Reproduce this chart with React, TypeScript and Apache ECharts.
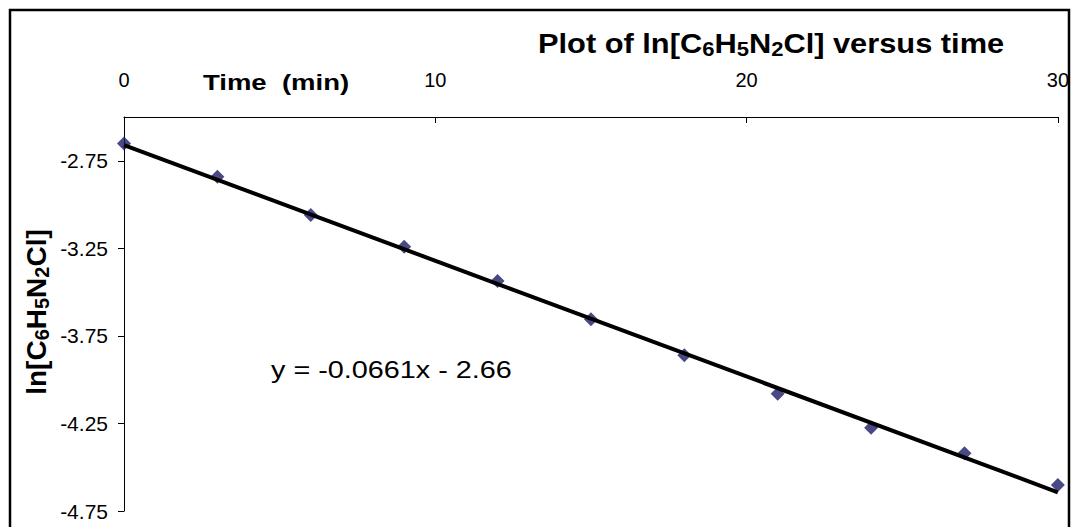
import React, { useEffect, useRef } from "react";
import * as echarts from "echarts";

const FONT = '"Liberation Sans", Arial, Helvetica, sans-serif';

// time (min)
const timeValues = [0, 3, 6, 9, 12, 15, 18, 21, 24, 27, 30];
// ln[C6H5N2Cl]
const lnValues = [-2.651, -2.841, -3.059, -3.241, -3.436, -3.655, -3.86, -4.08, -4.274, -4.42, -4.601];
// linear trendline y = -0.0661x - 2.66
const trendSlope = -0.0661;
const trendIntercept = -2.66;
const xTickValues = [0, 10, 20, 30];
const yTickValues = [-4.75, -4.25, -3.75, -3.25, -2.75];

const titleText = "{b|Plot of ln[C}{s|6}{b|H}{s|5}{b|N}{s|2}{b|Cl] versus time}";
const yNameText = "{b|ln[C}{s|6}{b|H}{s|5}{b|N}{s|2}{b|Cl]}";
const xNameText = "Time  (min)";
const equationText = "y = -0.0661x - 2.66";

const richStyles = {
  b: { fontSize: 28, fontWeight: "bold", fontFamily: FONT, fill: "#000", verticalAlign: "top", lineHeight: 28 },
  s: { fontSize: 20, fontWeight: "bold", fontFamily: FONT, fill: "#000", verticalAlign: "top", lineHeight: 20, padding: [10, 0, 0, 0] },
};

export default function App() {
  const ref = useRef<HTMLDivElement>(null);
  useEffect(() => {
    if (!ref.current) return;
    const chart = echarts.init(ref.current, null, { renderer: "svg" });
    const scatterData = timeValues.map((t, i) => [t, lnValues[i]]);
    const xMin = timeValues[0];
    const xMax = timeValues[timeValues.length - 1];
    const trendData = [
      [xMin, trendSlope * xMin + trendIntercept],
      [xMax, trendSlope * xMax + trendIntercept],
    ];
    chart.setOption({
      animation: false,
      backgroundColor: "#fff",
      grid: { left: 124, right: 14, top: 117, bottom: 16, containLabel: false },
      xAxis: {
        type: "value",
        position: "top",
        min: 0,
        max: 30,
        interval: 10,
        axisLine: { show: true, onZero: false, lineStyle: { color: "#000", width: 1 } },
        axisTick: { show: true, inside: true, length: 6, lineStyle: { color: "#000" }, customValues: xTickValues },
        axisLabel: { show: true, margin: 27, fontSize: 20, fontFamily: FONT, color: "#000", customValues: xTickValues },
        splitLine: { show: false },
      },
      yAxis: {
        type: "value",
        min: -4.75,
        max: -2.5,
        interval: 0.5,
        axisLine: { show: true, onZero: false, lineStyle: { color: "#000", width: 1 } },
        axisTick: { show: true, inside: false, length: 6, lineStyle: { color: "#000" }, customValues: yTickValues },
        axisLabel: {
          show: true,
          margin: 16,
          fontSize: 21,
          fontFamily: FONT,
          color: "#000",
          customValues: yTickValues,
          formatter: (v: number) => (v >= -2.5 ? "" : v.toFixed(2)),
        },
        splitLine: { show: false },
      },
      series: [
        {
          type: "scatter",
          data: scatterData,
          symbol: "diamond",
          symbolSize: 14,
          itemStyle: { color: "#1c1c68" },
          z: 2,
        },
        {
          type: "line",
          data: trendData,
          showSymbol: false,
          symbol: "none",
          lineStyle: { color: "#000", width: 4 },
          z: 3,
        },
      ],
      graphic: [
        {
          type: "rect",
          shape: { x: 10, y: 10, width: 1059, height: 600 },
          style: { fill: "none", stroke: "#000", lineWidth: 2.5 },
          silent: true,
          z: 10,
        },
        {
          type: "text",
          x: 538,
          y: 29,
          scaleX: 1.1,
          style: { text: titleText, rich: richStyles, align: "left", verticalAlign: "top" },
        },
        {
          type: "text",
          x: 203,
          y: 82,
          scaleX: 1.25,
          style: { text: xNameText, fontSize: 22, fontWeight: "bold", fontFamily: FONT, fill: "#000", align: "left", verticalAlign: "middle" },
        },
        {
          type: "text",
          x: 36,
          y: 312,
          rotation: Math.PI / 2,
          style: { text: yNameText, rich: richStyles, align: "center", verticalAlign: "middle" },
        },
        {
          type: "text",
          x: 271,
          y: 369.5,
          scaleX: 1.2,
          style: { text: equationText, fontSize: 24, fontFamily: FONT, fill: "#000", align: "left", verticalAlign: "middle" },
        },
      ],
    });
    return () => chart.dispose();
  }, []);
  return (
    <div
      ref={ref}
      style={{ position: "fixed", left: 0, top: 0, width: 1072, height: 527, background: "#fff" }}
    />
  );
}
